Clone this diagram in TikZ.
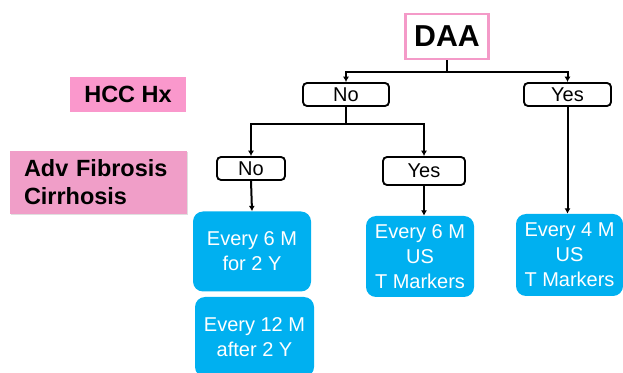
\documentclass[tikz,border=0pt]{standalone}
\usepackage{fontspec}
\setmainfont{Liberation Sans}
\usepackage{tikz}
\usetikzlibrary{arrows.meta,shadows}
\definecolor{daapink}{RGB}{244, 154, 200}
\definecolor{hccpink}{RGB}{250, 152, 204}
\definecolor{advpink}{RGB}{240, 158, 200}
\definecolor{boxblue}{RGB}{0, 176, 240}

\begin{document}
\begin{tikzpicture}[x=0.75pt, y=-0.75pt,
    arr/.style={-{Latex[length=4pt,width=4.5pt]}, line width=1.5pt, black},
    choice/.style={draw=black, line width=1.4pt, rounded corners=3pt, minimum height=17.25pt, inner sep=0pt, font=\fontsize{15}{17}\selectfont},
    plan/.style={fill=boxblue, rounded corners=7.5pt, text=white, align=center, inner sep=0pt, font=\fontsize{15}{18.75}\selectfont},
    factor/.style={inner sep=0pt, font=\fontsize{17.6}{21}\selectfont\bfseries}]
    \useasboundingbox (0,0) rectangle (623,373);

    % Titulo
    \node[draw=daapink, line width=1.8pt, minimum width=62.25pt, minimum height=33.75pt, inner sep=0pt, font=\fontsize{22.7}{26}\selectfont\bfseries] (daa) at (447,36.5) {DAA};

    % Factores a la izquierda
    \node[factor, fill=hccpink, minimum width=87pt, minimum height=26.25pt] (hcc) at (128,94.5) {HCC Hx};
    \node[factor, fill=advpink, text width=111.75pt, inner xsep=10.5pt, minimum height=47.25pt, align=left,
        drop shadow={opacity=0.25, shadow xshift=1pt, shadow yshift=-1pt}] (adv) at (98.5,182.5) {Adv Fibrosis\\Cirrhosis};

    % Primer nivel
    \node[choice, minimum width=64.5pt] (no1) at (346,94.5) {No};
    \node[choice, minimum width=65.25pt] (yes1) at (567.5,94.5) {Yes};

    % Segundo nivel
    \node[choice, minimum width=51pt] (no2) at (251,168.5) {No};
    \node[choice, minimum width=61.5pt, minimum height=21pt] (yes2) at (424,171) {Yes};

    % Vigilancia
    \node[plan, minimum width=88.5pt, minimum height=60pt] (six2y) at (252,251.5) {Every 6 M\\for 2 Y};
    \node[plan, minimum width=89.25pt, minimum height=60pt] (twelve) at (254.5,337) {Every 12 M\\after 2 Y};
    \node[plan, minimum width=81pt, minimum height=60.75pt] (sixus) at (420,256.5) {Every 6 M\\US\\T Markers};
    \node[plan, minimum width=80.25pt, minimum height=61.5pt] (fourus) at (569.5,255) {Every 4 M\\US\\T Markers};

    % Conectores
    \draw[arr] (daa.south) -- ++(0,12) -| (no1.north);
    \draw[arr] (daa.south) -- ++(0,12) -| (yes1.north);
    \draw[arr] (no1.south) -- ++(0,17) -| (no2.north);
    \draw[arr] (no1.south) -- ++(0,17) -| (yes2.north);
    \draw[arr] (no2.south) -- (six2y.north);
    \draw[arr] (yes2.south) -- (yes2.south |- sixus.north);
    \draw[arr] (yes1.south) -- (yes1.south |- fourus.north);
\end{tikzpicture}
\end{document}
